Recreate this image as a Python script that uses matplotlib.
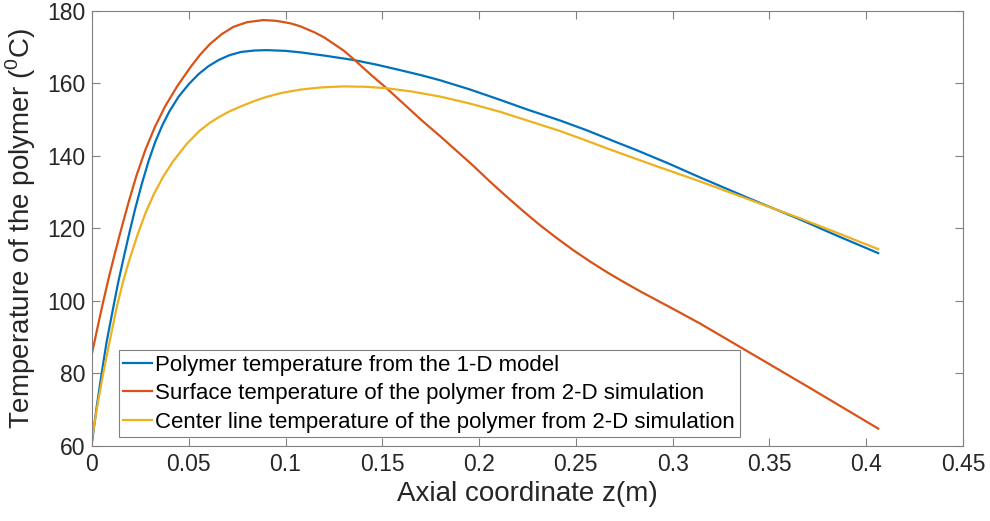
import numpy as np
import matplotlib
matplotlib.use("Agg")
import matplotlib.pyplot as plt

plt.rcParams["font.family"] = ["Liberation Sans", "DejaVu Sans"]
plt.rcParams["mathtext.fontset"] = "custom"
plt.rcParams["mathtext.rm"] = "Liberation Sans"

# values
z_model = [0.0, 0.0025, 0.005, 0.0075, 0.0102, 0.0133, 0.0164, 0.0194, 0.0224,
           0.0258, 0.0293, 0.0327, 0.0362, 0.040, 0.0448, 0.050, 0.0551, 0.060,
           0.0655, 0.071, 0.077, 0.084, 0.0902, 0.100, 0.1075, 0.120, 0.135,
           0.147, 0.1591, 0.170, 0.1798, 0.195, 0.2108, 0.225, 0.2418, 0.2556,
           0.270, 0.2814, 0.298, 0.3141, 0.340, 0.3658, 0.385, 0.4062]
t_model = [61.0, 71.0, 80.0, 88.5, 96.0, 104.5, 112.0, 119.0, 125.6,
           132.4, 138.7, 143.9, 148.3, 152.3, 156.4, 159.8, 162.6, 164.7,
           166.5, 167.8, 168.7, 169.1, 169.2, 169.0, 168.6, 167.7, 166.5,
           165.2, 163.7, 162.3, 160.9, 158.4, 155.5, 152.8, 149.8, 147.1,
           144.0, 141.6, 137.9, 134.1, 128.2, 122.5, 118.0, 113.2]

z_surface = [0.0, 0.003, 0.0058, 0.0085, 0.0112, 0.015, 0.019, 0.023, 0.0276,
             0.0325, 0.0379, 0.044, 0.0506, 0.0558, 0.061, 0.067, 0.073,
             0.080, 0.0885, 0.095, 0.1025, 0.1075, 0.115, 0.120, 0.130, 0.135,
             0.145, 0.1522, 0.160, 0.170, 0.1798, 0.188, 0.197, 0.2055,
             0.2142, 0.223, 0.2315, 0.240, 0.2487, 0.2573, 0.2659, 0.2745,
             0.2831, 0.3003, 0.3141, 0.340, 0.370, 0.4062]
t_surface = [85.5, 93.0, 99.8, 106.0, 111.8, 119.6, 127.4, 134.6, 141.7,
             148.0, 153.8, 159.2, 164.3, 167.9, 170.9, 173.6, 175.6,
             176.9, 177.5, 177.3, 176.6, 175.8, 174.1, 172.7, 169.1, 166.8,
             162.0, 158.7, 154.9, 150.0, 145.5, 141.6, 137.3, 133.0,
             128.8, 124.7, 120.9, 117.4, 114.0, 110.9, 108.0, 105.3,
             102.7, 97.8, 93.8, 85.7, 76.3, 64.8]

z_center = [0.0, 0.003, 0.0058, 0.009, 0.0128, 0.016, 0.0193, 0.0235, 0.0276,
            0.032, 0.0368, 0.042, 0.0489, 0.0555, 0.061, 0.0655, 0.071, 0.0775,
            0.084, 0.0902, 0.098, 0.1075, 0.118, 0.1298, 0.141, 0.1522, 0.165,
            0.1798, 0.195, 0.2108, 0.226, 0.2418, 0.2546, 0.2676, 0.290,
            0.3141, 0.340, 0.3658, 0.385, 0.4062]
t_center = [62.0, 71.8, 80.0, 88.5, 98.3, 105.2, 111.3, 118.2, 124.2,
            129.5, 134.3, 138.6, 143.3, 146.9, 149.2, 150.7, 152.3, 153.8,
            155.2, 156.3, 157.4, 158.3, 158.9, 159.2, 159.1, 158.7, 157.8,
            156.4, 154.5, 152.2, 149.6, 146.9, 144.4, 141.8, 137.5,
            133.0, 127.9, 122.8, 118.8, 114.3]

labels = ["Polymer temperature from the 1-D model",
          "Surface temperature of the polymer from 2-D simulation",
          "Center line temperature of the polymer from 2-D simulation"]
colors = ["#0072BD", "#D95319", "#EDB120"]

fig = plt.figure(figsize=(9.9, 5.21), dpi=100)
ax = fig.add_axes([0.0929, 0.144, 0.8798, 0.8349])

for zz, tt, lab, col in zip([z_model, z_surface, z_center],
                            [t_model, t_surface, t_center], labels, colors):
    ax.plot(zz, tt, color=col, lw=1.6, label=lab, solid_joinstyle="round")

ax.set_xlim(0, 0.45)
ax.set_ylim(60, 180)
ax.set_xticks(np.arange(0, 0.451, 0.05))
ax.set_xticklabels(["0", "0.05", "0.1", "0.15", "0.2", "0.25", "0.3", "0.35", "0.4", "0.45"])
ax.set_yticks(np.arange(60, 181, 20))

for s in ax.spines.values():
    s.set_color("#808080")
    s.set_linewidth(0.8)
ax.tick_params(direction="in", length=5.5, width=0.8, color="#808080",
               top=True, right=True, labelsize=16.5, labelcolor="#262626", pad=5)

ax.set_xlabel("Axial coordinate z(m)", fontsize=20, color="#262626", labelpad=4)
ax.set_ylabel(r"Temperature of the polymer ($^{0}$C)", fontsize=20,
              color="#262626", labelpad=6)

leg = ax.legend(loc="lower left", bbox_to_anchor=(0.0307, 0.02), borderaxespad=0,
                fontsize=16, fancybox=False, framealpha=1, edgecolor="#808080",
                handlelength=1.3, handletextpad=0.15, labelspacing=0.34,
                borderpad=0.2)
leg.get_frame().set_linewidth(0.8)

fig.savefig("out.png", dpi=100)
